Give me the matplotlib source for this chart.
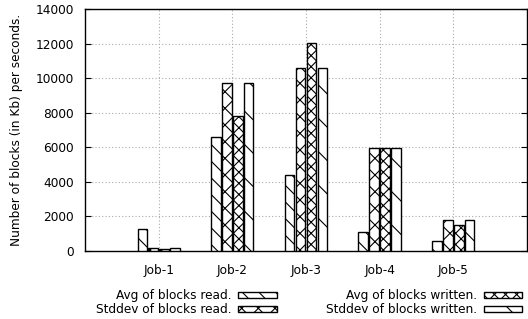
import matplotlib
matplotlib.use("Agg")
import matplotlib.pyplot as plt
import numpy as np

jobs = ["Job-1", "Job-2", "Job-3", "Job-4", "Job-5"]
avg_read = [1280, 6600, 4400, 1080, 580]
std_read = [200, 9700, 10600, 5950, 1800]
avg_written = [120, 7800, 12050, 5950, 1480]
std_written = [180, 9700, 10600, 5950, 1800]

# gnuplot-like fill patterns
series = [
    ("Avg of blocks read.", avg_read, "\\\\"),
    ("Stddev of blocks read.", std_read, "xx"),
    ("Avg of blocks written.", avg_written, "xxx"),
    ("Stddev of blocks written.", std_written, "\\"),
]

plt.rcParams["font.family"] = "DejaVu Sans"
plt.rcParams["font.size"] = 8.7
plt.rcParams["hatch.linewidth"] = 0.8

fig = plt.figure(figsize=(5.28, 3.19), dpi=100)
ax = fig.add_axes([0.161, 0.213, 0.837, 0.759])

x = np.arange(1, len(jobs) + 1)
width = 0.13
step = 0.148
handles = []
for i, (label, vals, hatch) in enumerate(series):
    offs = (i - 1.5) * step
    b = ax.bar(x + offs, vals, width, facecolor="white", edgecolor="black",
               hatch=hatch, linewidth=1.0, label=label, zorder=3)
    handles.append(b)

ax.set_xlim(0, 6)
ax.set_ylim(0, 14000)
ax.set_xticks(x)
ax.set_xticklabels(jobs)
ax.set_yticks(np.arange(0, 14001, 2000))
ax.tick_params(direction="in", length=4, top=False, right=True, bottom=False)
ax.tick_params(axis="y", pad=8)
ax.tick_params(axis="x", pad=9)
ax.grid(True, linestyle=(0, (1, 2)), color="#aaaaaa", linewidth=0.8, zorder=0)
ax.set_ylabel("Number of blocks (in Kb) per seconds.", labelpad=9)
for s in ax.spines.values():
    s.set_linewidth(1.0)

fig.legend(handles=handles, loc="lower right", bbox_to_anchor=(1.01, -0.026),
           ncol=2, frameon=False, markerfirst=False, handlelength=3.2,
           handleheight=0.45, columnspacing=4.05, labelspacing=0.1,
           handletextpad=0.58)

fig.savefig("out.png", dpi=100)
